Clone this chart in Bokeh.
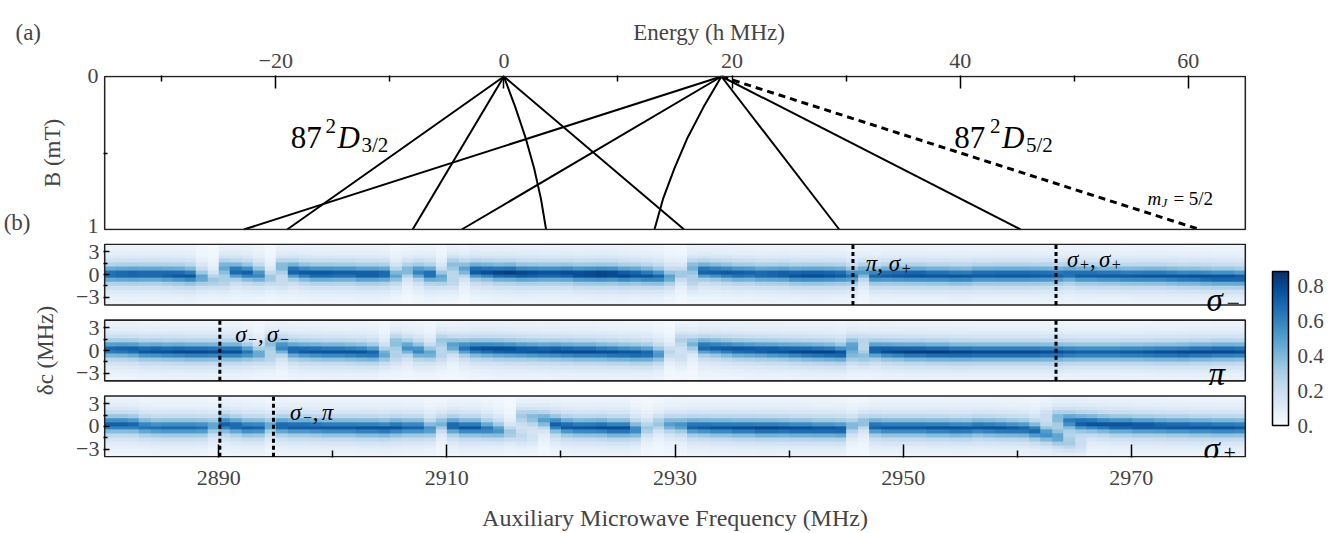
import numpy as np
from bokeh.plotting import figure
from bokeh.layouts import column
from bokeh.models import (Range1d, FixedTicker, LinearColorMapper, ColorBar, Label,
                          PrintfTickFormatter, LinearAxis, Title)
from bokeh.embed import file_html
from bokeh.resources import INLINE

FONT = "Liberation Serif"

# ---------------- panel (a): Zeeman map ----------------
b_field = [0.0, 1.0]                       # B (mT) at top / bottom of panel
b_samples = [0.0, 0.2, 0.4, 0.6, 0.8, 1.0]  # B samples for the curved levels
origin_d32 = 0.0                            # 87 2D3/2 zero-field energy (h MHz)
origin_d52 = 19.07                          # 87 2D5/2 zero-field energy (h MHz)
d32_straight_end = [-19.0, -8.0, 15.8]      # energies at 1 mT
d52_straight_end = [-22.8, -3.7, 29.4, 45.3]
d32_curve = [0.0, 1.0, 1.9, 2.65, 3.25, 3.7]
d52_curve = [19.07, 17.5, 16.1, 14.95, 13.95, 13.2]
mj52_end = 61.0
energy_ticks = [-20, 0, 20, 40, 60]
energy_minor = [-30, -10, 10, 30, 50]

# ---------------- panel (b): spectra ----------------
freq_min, freq_max = 2880, 2980
freq_zero = 2915                            # frequency matching energy 0
freq_ticks = [2890, 2910, 2930, 2950, 2970]
freq_minor = [2900, 2920, 2940, 2960]
delta_rows = list(np.arange(-3.75, 4.0, 0.5))   # delta_c bin centres (MHz)
delta_ticks = [3, 0, -3]
delta_minor = [1.5, -1.5]
line_halfwidth = 1.0

c_sm = [0.0, 0.0, 0.0, 0.0, 0.0, -0.05, -0.1, -0.2, -0.45, -0.8,
        0.9, 0.4, 0.2, -0.1, -0.5, 1.0, 0.4, 0.2, 0.1, 0.1,
        0.1, 0.1, 0.0, 0.0, 0.0, -0.2, 0.5, 0.3, 0.0, -0.4,
        1.2, 0.7, 0.4, 0.3, 0.2, 0.2, 0.1, 0.1, 0.1, 0.1,
        0.1, 0.0, 0.0, 0.0, 0.0, -0.1, -0.1, -0.2, -0.3, -0.4,
        0.0, 0.9, 0.4, 0.3, 0.2, 0.1, 0.1, 0.0, 0.0, 0.0,
        -0.1, -0.1, -0.1, -0.1, -0.1, -0.2, 0.3, -0.2, -0.1, -0.1,
        -0.1, -0.1, -0.15, -0.15, -0.2, -0.2, -0.1, -0.1, -0.1, -0.1,
        -0.1, -0.1, -0.1, -0.1, 0.0, -0.1, -0.1, -0.15, -0.15, -0.2,
        -0.2, -0.2, -0.2, -0.25, -0.3, -0.3, -0.35, -0.4, -0.4, -0.45]
a_sm = [0.70, 0.72, 0.74, 0.72, 0.72, 0.74, 0.76, 0.75, 0.50, 0.34,
        0.42, 0.70, 0.72, 0.60, 0.34, 0.38, 0.72, 0.74, 0.76, 0.76,
        0.74, 0.74, 0.76, 0.76, 0.72, 0.48, 0.42, 0.60, 0.70, 0.48,
        0.34, 0.48, 0.75, 0.78, 0.82, 0.84, 0.82, 0.80, 0.78, 0.78,
        0.80, 0.82, 0.84, 0.86, 0.84, 0.82, 0.78, 0.76, 0.70, 0.50,
        0.34, 0.38, 0.72, 0.72, 0.74, 0.74, 0.72, 0.72, 0.74, 0.76,
        0.78, 0.80, 0.80, 0.78, 0.75, 0.65, 0.52, 0.70, 0.74, 0.76,
        0.78, 0.78, 0.76, 0.76, 0.76, 0.75, 0.75, 0.75, 0.76, 0.76,
        0.76, 0.75, 0.74, 0.72, 0.70, 0.74, 0.74, 0.74, 0.74, 0.74,
        0.75, 0.76, 0.76, 0.76, 0.76, 0.77, 0.78, 0.78, 0.78, 0.76]
c_pi = [0.1, 0.1, 0.05, -0.1, -0.1, -0.15, -0.15, -0.2, -0.2, -0.2,
        -0.2, -0.2, -0.3, -0.5, 0.9, 0.4, 0.0, -0.1, -0.15, -0.2,
        -0.2, -0.25, -0.3, -0.4, -0.6, 1.0, 0.3, -0.1, -0.4, 1.2,
        0.6, 0.3, 0.2, 0.15, 0.1, 0.05, 0.0, -0.05, -0.1, -0.1,
        -0.15, -0.2, -0.2, -0.25, -0.3, -0.35, -0.4, -0.45, -0.55, -0.3,
        1.3, 0.8, 0.4, 0.3, 0.2, 0.1, 0.05, 0.0, -0.05, -0.1,
        -0.15, -0.2, -0.25, -0.3, -0.4, 0.6, -0.9, 0.0, -0.1, -0.15,
        -0.2, -0.2, -0.25, -0.25, -0.3, -0.3, -0.3, -0.3, -0.3, -0.3,
        -0.3, -0.3, -0.3, -0.3, -0.3, -0.3, -0.3, -0.3, -0.3, -0.3,
        -0.3, -0.3, -0.3, -0.3, -0.3, -0.25, -0.25, -0.2, -0.2, -0.2]
a_pi = [0.70, 0.72, 0.74, 0.76, 0.78, 0.78, 0.80, 0.80, 0.80, 0.78,
        0.78, 0.78, 0.65, 0.48, 0.34, 0.60, 0.72, 0.75, 0.76, 0.76,
        0.76, 0.76, 0.76, 0.72, 0.48, 0.34, 0.55, 0.60, 0.48, 0.30,
        0.50, 0.65, 0.75, 0.78, 0.80, 0.80, 0.78, 0.78, 0.78, 0.80,
        0.80, 0.80, 0.80, 0.78, 0.78, 0.76, 0.76, 0.72, 0.55, 0.26,
        0.26, 0.42, 0.70, 0.72, 0.74, 0.76, 0.76, 0.76, 0.78, 0.78,
        0.80, 0.82, 0.82, 0.82, 0.78, 0.42, 0.34, 0.75, 0.80, 0.82,
        0.84, 0.84, 0.84, 0.84, 0.82, 0.82, 0.80, 0.80, 0.80, 0.80,
        0.80, 0.80, 0.78, 0.78, 0.74, 0.72, 0.72, 0.72, 0.72, 0.74,
        0.74, 0.76, 0.78, 0.78, 0.80, 0.80, 0.80, 0.80, 0.80, 0.78]
c_sp = [0.2, 0.2, 0.15, -0.1, -0.2, -0.2, -0.2, -0.2, -0.2, 0.0,
        0.2, 0.0, -0.2, -0.2, 0.0, 0.0, -0.1, -0.1, -0.15, -0.2,
        -0.2, -0.2, -0.25, -0.25, -0.3, -0.2, -0.2, -0.2, -0.4, 0.3,
        0.0, -0.2, -0.2, -0.4, -0.6, -0.9, 1.3, 1.1, 0.8, 0.2,
        -0.1, -0.2, -0.2, -0.2, -0.3, -0.3, -0.5, -0.3, 0.3, 0.2,
        0.1, -0.1, -0.15, -0.2, -0.2, -0.25, -0.25, -0.3, -0.3, -0.3,
        -0.35, -0.35, -0.4, -0.4, -0.45, 0.0, 0.5, -0.1, -0.2, -0.2,
        -0.2, -0.2, -0.25, -0.25, -0.3, -0.3, -0.2, -0.25, -0.3, -0.35,
        -0.4, -0.65, -1.1, -1.5, 0.65, 0.4, 0.3, 0.2, 0.1, 0.1,
        0.0, 0.0, -0.05, -0.1, -0.1, -0.15, -0.15, -0.2, -0.2, -0.2]
a_sp = [0.72, 0.72, 0.70, 0.66, 0.66, 0.68, 0.68, 0.68, 0.66, 0.50,
        0.72, 0.72, 0.72, 0.70, 0.48, 0.72, 0.74, 0.74, 0.74, 0.74,
        0.74, 0.74, 0.76, 0.76, 0.76, 0.76, 0.70, 0.70, 0.55, 0.42,
        0.72, 0.75, 0.75, 0.65, 0.55, 0.34, 0.30, 0.38, 0.50, 0.72,
        0.75, 0.75, 0.76, 0.78, 0.78, 0.78, 0.60, 0.34, 0.34, 0.50,
        0.55, 0.72, 0.74, 0.76, 0.76, 0.78, 0.78, 0.80, 0.80, 0.78,
        0.78, 0.78, 0.76, 0.76, 0.75, 0.42, 0.38, 0.72, 0.74, 0.74,
        0.74, 0.74, 0.76, 0.76, 0.76, 0.75, 0.75, 0.76, 0.76, 0.74,
        0.72, 0.70, 0.55, 0.45, 0.60, 0.72, 0.76, 0.76, 0.78, 0.78,
        0.78, 0.78, 0.76, 0.76, 0.76, 0.76, 0.76, 0.76, 0.76, 0.74]
# weaker second branch near the avoided crossings: panel, column, centre, amplitude
extra_panel = [0, 0, 0, 0, 1, 1, 1, 1, 1, 1, 2, 2, 2, 2, 2, 2]
extra_col = [10, 15, 30, 51, 14, 25, 29, 50, 65, 66, 36, 37, 82, 83, 84, 85]
extra_c = [-1.0, -1.2, -1.0, -1.0, -1.1, -0.9, -0.8, -1.0, -0.8, 1.2, -1.4, -1.6, 1.5, 1.1, -2.2, -2.6]
extra_a = [0.20, 0.15, 0.20, 0.20, 0.20, 0.20, 0.20, 0.15, 0.25, 0.20, 0.20, 0.12, 0.12, 0.35, 0.25, 0.12]

# dashed markers: frequency and panel
mark_freq = [2945.6, 2963.4, 2890.1, 2963.4, 2890.1, 2894.8]
mark_panel = [0, 0, 1, 1, 2, 2]
cbar_ticks = [0.0, 0.2, 0.4, 0.6, 0.8]
cbar_high = 0.88

# ---------------- layout geometry (page pixels) ----------------
W = 1338
F_LEFT = 99          # frame left (page px)
F2_BOTTOM = 459      # frame bottom of figure (b)

def ex(xr):  # page pixel -> energy
    return (xr - 501.0) / 11.45

def by(yr):  # page pixel -> B
    return (yr - 76.0) / 153.0

def fx(xr):  # page pixel -> frequency
    return freq_min + (xr - 100.0) / 11.45

def dy(yr):  # page pixel -> stacked delta coordinate
    return (274.5 - yr) / 7.66

def put(p, x, y, text, size, style="normal", align="left", baseline="alphabetic"):
    p.add_layout(Label(x=x, y=y, text=text, text_font=FONT, text_font_size=f"{size}px",
                       text_font_style=style, text_align=align, text_baseline=baseline,
                       text_color="black"))

def style_axis(ax, size="22px"):
    ax.axis_line_color = None
    ax.major_label_text_font = FONT
    ax.major_label_text_font_size = size
    ax.axis_label_text_font = FONT
    ax.axis_label_text_font_size = "23px"
    ax.axis_label_text_font_style = "normal"
    ax.major_tick_line_width = 1.5
    ax.minor_tick_line_width = 1.5

def blues(n):
    anchors = ["#f7fbff", "#deebf7", "#c6dbef", "#9ecae1", "#6baed6",
               "#4292c6", "#2171b5", "#08519c", "#08306b"]
    rgb = np.array([[int(h[i:i + 2], 16) for i in (1, 3, 5)] for h in anchors], float)
    pos = np.linspace(0, 1, len(anchors))
    out = []
    for v in np.linspace(0, 1, n):
        r, g, b = (np.interp(v, pos, rgb[:, k]) for k in range(3))
        out.append("#%02x%02x%02x" % (int(round(r)), int(round(g)), int(round(b))))
    return out

e_min, e_max = freq_min - freq_zero, freq_max - freq_zero

# ---------------- figure (a) ----------------
p1 = figure(width=W, height=238, x_range=Range1d(e_min - 0.1, e_max + 0.1),
            y_range=Range1d(1.0065, -0.0065), x_axis_location="above",
            output_backend="svg", toolbar_location=None,
            min_border_left=F_LEFT, min_border_right=92, min_border_top=75, min_border_bottom=8)
p1.outline_line_color = None
p1.grid.visible = False
p1.title = Title(text="(a)" + "\u00a0" * 103 + "Energy (h MHz)", align="left", offset=11 - F_LEFT,
                 text_font=FONT, text_font_size="23px", text_font_style="normal", standoff=11)

xa = p1.xaxis[0]
style_axis(xa)
xa.ticker = FixedTicker(ticks=energy_ticks, minor_ticks=energy_minor)
xa.major_label_overrides = {t: (f"−{abs(t)}" if t < 0 else str(t)) for t in energy_ticks}
xa.major_tick_in, xa.major_tick_out = 13, 0
xa.minor_tick_in, xa.minor_tick_out = 6, 0
xa.major_label_standoff = 8

ya = p1.yaxis[0]
style_axis(ya)
b_label_pos = [0.0, 0.975]   # "1" label nudged up so it stays inside its canvas
ya.ticker = FixedTicker(ticks=b_label_pos, minor_ticks=[0.5])
ya.major_label_overrides = {b_label_pos[0]: "0", b_label_pos[1]: "1"}
ya.major_tick_line_color = None
ya.major_tick_in, ya.major_tick_out = 6, 0
ya.minor_tick_in, ya.minor_tick_out = 4, 0
ya.major_label_standoff = 5
ya.axis_label = "B (mT)"
ya.axis_label_standoff = 20

# panel tag "(b)" carried by an extra, line-less left axis
tag_axis = LinearAxis(ticker=FixedTicker(ticks=[0.955], minor_ticks=[]),
                      major_label_overrides={0.955: "(b)"})
style_axis(tag_axis, "23px")
tag_axis.major_tick_line_color = None
tag_axis.minor_tick_line_color = None
tag_axis.major_label_standoff = 0
p1.add_layout(tag_axis, "left")

xs, ys = [], []
for e in d32_straight_end:
    xs.append([origin_d32, e]); ys.append(b_field)
for e in d52_straight_end:
    xs.append([origin_d52, e]); ys.append(b_field)
xs.append(d32_curve); ys.append(b_samples)
xs.append(d52_curve); ys.append(b_samples)
p1.multi_line(xs, ys, line_color="black", line_width=2)
p1.line([origin_d52, mj52_end], b_field, line_color="black", line_width=3, line_dash="7 5")
p1.quad(left=[e_min], right=[e_max], top=[b_field[0]], bottom=[b_field[1]],
        fill_color=None, line_color="#222222", line_width=1.6)

# 87 2D3/2
put(p1, ex(287), by(137), "87", 31)
put(p1, ex(322), by(126), "2", 21)
put(p1, ex(334), by(137), "D", 31, "italic")
put(p1, ex(358), by(145), "3/2", 21)
# 87 2D5/2
put(p1, ex(953), by(137), "87", 31)
put(p1, ex(989), by(126), "2", 21)
put(p1, ex(1001), by(137), "D", 31, "italic")
put(p1, ex(1025), by(145), "5/2", 21)
# mJ = 5/2
put(p1, ex(1147), by(198), "m", 19, "italic")
put(p1, ex(1161), by(202), "J", 13, "italic")
put(p1, ex(1173), by(198), "= 5/2", 19)

# ---------------- figure (b) ----------------
offsets = [0.0, -10.0, -20.0]
p2 = figure(width=W, height=295, x_range=Range1d(freq_min - 0.1, freq_max + 0.1),
            y_range=Range1d(-24.1, 4.1), output_backend="svg", toolbar_location=None,
            min_border_left=F_LEFT, min_border_right=92, min_border_top=5, min_border_bottom=74)
p2.outline_line_color = None
p2.grid.visible = False

mapper = LinearColorMapper(palette=blues(256), low=0.0, high=cbar_high)
centres = [c_sm, c_pi, c_sp]
amps = [a_sm, a_pi, a_sp]
yy = np.array(delta_rows)[:, None]
for i, off in enumerate(offsets):
    c = np.array(centres[i])[None, :]
    a = np.array(amps[i])[None, :]
    img = a / (1.0 + ((yy - c) / line_halfwidth) ** 2)
    for pnl, col, ce, am in zip(extra_panel, extra_col, extra_c, extra_a):
        if pnl == i:
            img[:, col] += am / (1.0 + ((yy[:, 0] - ce) / line_halfwidth) ** 2)
    p2.image(image=[img], x=freq_min, y=off - 4, dw=freq_max - freq_min, dh=8,
             color_mapper=mapper)
    p2.quad(left=[freq_min], right=[freq_max], bottom=[off - 4], top=[off + 4],
            fill_color=None, line_color="#222222", line_width=1.6)

p2.segment(x0=mark_freq, x1=mark_freq,
           y0=[offsets[k] - 4 for k in mark_panel], y1=[offsets[k] + 4 for k in mark_panel],
           line_color="black", line_width=3, line_dash="4 3")

xb = p2.xaxis[0]
style_axis(xb)
xb.ticker = FixedTicker(ticks=freq_ticks, minor_ticks=freq_minor)
xb.major_tick_in, xb.major_tick_out = 13, 0
xb.minor_tick_in, xb.minor_tick_out = 7, 0
xb.major_label_standoff = 13
xb.axis_label = "Auxiliary Microwave Frequency (MHz)"
xb.axis_label_text_font_size = "24px"
xb.axis_label_standoff = 17

yb = p2.yaxis[0]
style_axis(yb)
ticks, minors, over = [], [], {}
for off in offsets:
    for t in delta_ticks:
        ticks.append(off + t)
        over[off + t] = f"−{abs(t)}" if t < 0 else str(t)
    for m in delta_minor:
        minors.append(off + m)
yb.ticker = FixedTicker(ticks=ticks, minor_ticks=minors)
yb.major_label_overrides = over
yb.major_tick_in, yb.major_tick_out = 6, 0
yb.minor_tick_in, yb.minor_tick_out = 4, 0
yb.major_label_standoff = 4
yb.axis_label = "δc (MHz)"
yb.axis_label_standoff = 15

# transition annotations
put(p2, fx(864), dy(263), "π, σ", 23, "italic")
put(p2, fx(900), dy(268), "+", 16)
put(p2, fx(1066), dy(259), "σ", 23, "italic")
put(p2, fx(1079), dy(264), "+", 16)
put(p2, fx(1089), dy(259), ",", 23)
put(p2, fx(1098), dy(259), "σ", 23, "italic")
put(p2, fx(1111), dy(264), "+", 16)
put(p2, fx(231), dy(335), "σ", 23, "italic")
put(p2, fx(244), dy(340), "−", 16)
put(p2, fx(254), dy(335), ",", 23)
put(p2, fx(263), dy(335), "σ", 23, "italic")
put(p2, fx(276), dy(340), "−", 16)
put(p2, fx(286), dy(414), "σ", 23, "italic")
put(p2, fx(299), dy(419), "−", 16)
put(p2, fx(309), dy(414), ",", 23)
put(p2, fx(318), dy(414), "π", 23, "italic")
# panel labels
put(p2, fx(1206), dy(300), "σ", 33, "italic")
put(p2, fx(1226), dy(304), "−", 24)
put(p2, fx(1208), dy(375), "π", 33, "italic")
put(p2, fx(1203), dy(451), "σ", 33, "italic")
put(p2, fx(1223), dy(455), "+", 22)

cb = ColorBar(color_mapper=mapper, orientation="vertical",
              ticker=FixedTicker(ticks=cbar_ticks),
              formatter=PrintfTickFormatter(format="%.1f"),
              major_label_overrides={0.0: "0."},
              width=16, height=154, location=(1268 - F_LEFT, F2_BOTTOM - 427),
              padding=0, margin=0,
              bar_line_color="black", bar_line_width=1.5,
              major_tick_line_color=None, minor_tick_line_color=None,
              major_label_text_font=FONT, major_label_text_font_size="21px",
              label_standoff=9, background_fill_alpha=0, border_line_color=None)
p2.add_layout(cb, "center")

layout = column(p1, p2, spacing=0)
open("out.html", "w").write(file_html(layout, INLINE))
